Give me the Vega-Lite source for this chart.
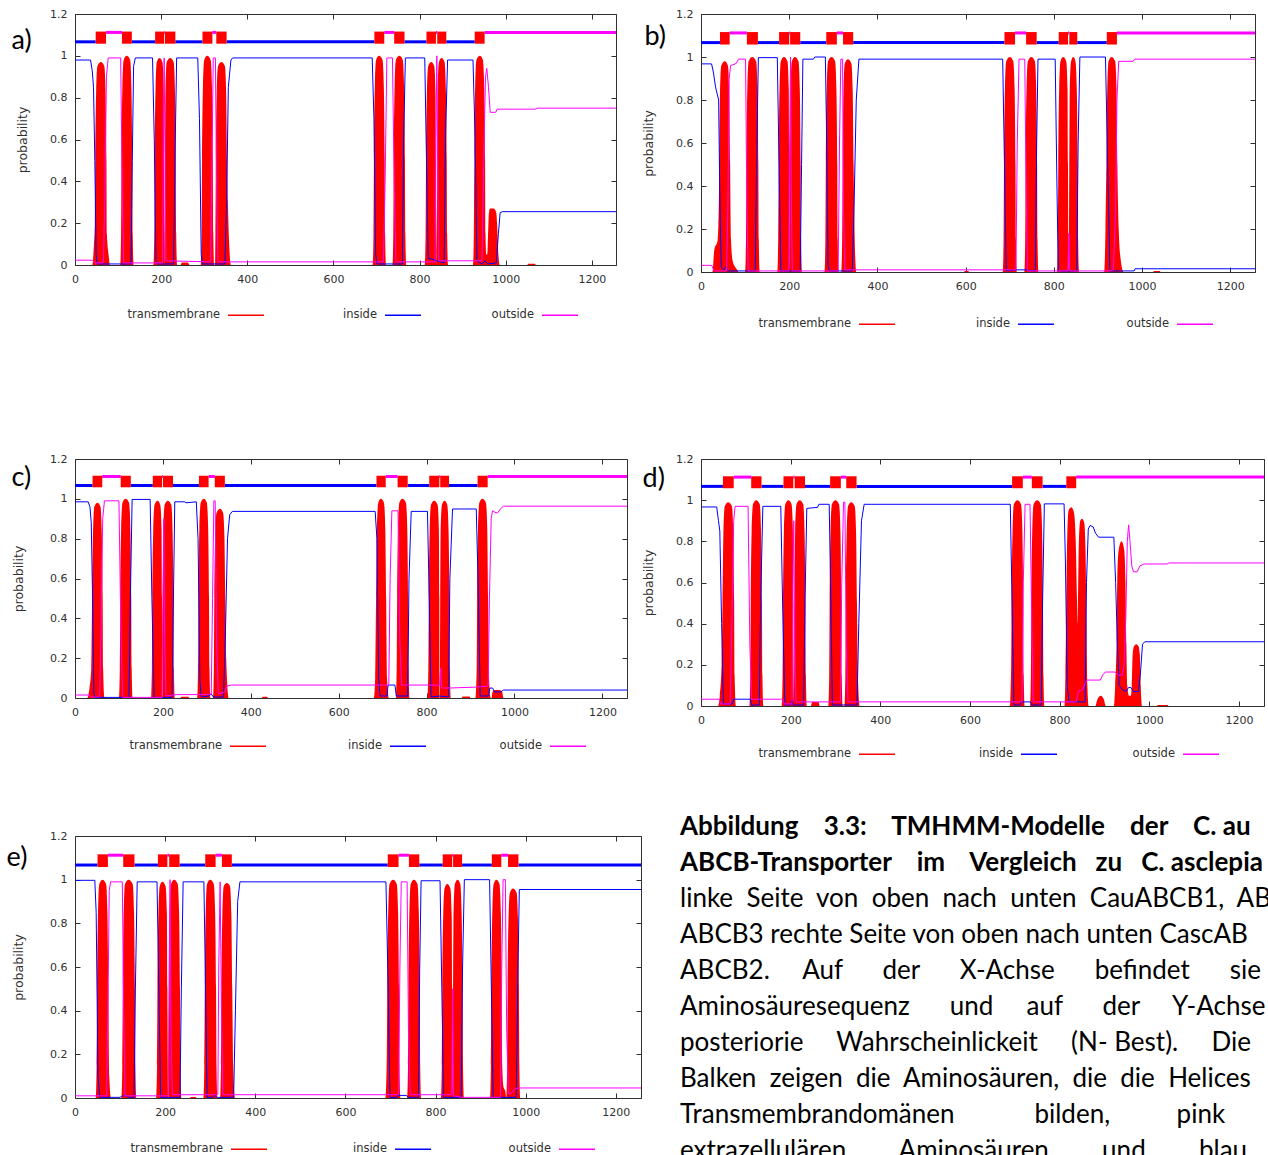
{
"$schema": "https://vega.github.io/schema/vega-lite/v6.json",
"background": "white",
"padding": {"left": 6, "top": 7, "right": 0, "bottom": 0},
"datasets": {
"a_top": [{"start":0,"end":48,"region":"inside"},{"start":48,"end":72,"region":"TMhelix"},{"start":72,"end":109,"region":"outside"},{"start":109,"end":132,"region":"TMhelix"},{"start":132,"end":186,"region":"inside"},{"start":186,"end":207,"region":"TMhelix"},{"start":207,"end":209,"region":"outside"},{"start":209,"end":233,"region":"TMhelix"},{"start":233,"end":296,"region":"inside"},{"start":296,"end":319,"region":"TMhelix"},{"start":319,"end":328,"region":"outside"},{"start":328,"end":352,"region":"TMhelix"},{"start":352,"end":695,"region":"inside"},{"start":695,"end":718,"region":"TMhelix"},{"start":718,"end":741,"region":"outside"},{"start":741,"end":765,"region":"TMhelix"},{"start":765,"end":816,"region":"inside"},{"start":816,"end":838,"region":"TMhelix"},{"start":838,"end":841,"region":"outside"},{"start":841,"end":862,"region":"TMhelix"},{"start":862,"end":928,"region":"inside"},{"start":928,"end":951,"region":"TMhelix"},{"start":951,"end":1256,"region":"outside"}],
"a_tm": [{"pos":0,"prob":0},{"pos":40,"prob":0},{"pos":44,"prob":0.1},{"pos":46,"prob":0.2},{"pos":47,"prob":0.5},{"pos":49,"prob":0.82},{"pos":52,"prob":0.95},{"pos":60,"prob":0.97},{"pos":68,"prob":0.95},{"pos":71,"prob":0.82},{"pos":73,"prob":0.5},{"pos":74,"prob":0.15},{"pos":78,"prob":0.05},{"pos":81,"prob":0},{"pos":105,"prob":0},{"pos":107,"prob":0.15},{"pos":108,"prob":0.5},{"pos":110,"prob":0.85},{"pos":113,"prob":0.98},{"pos":120,"prob":1},{"pos":128,"prob":0.98},{"pos":131,"prob":0.85},{"pos":133,"prob":0.5},{"pos":134,"prob":0.15},{"pos":136,"prob":0},{"pos":182,"prob":0},{"pos":184,"prob":0.15},{"pos":185,"prob":0.5},{"pos":187,"prob":0.84},{"pos":190,"prob":0.97},{"pos":196,"prob":0.99},{"pos":203,"prob":0.97},{"pos":206,"prob":0.84},{"pos":207,"prob":0.5},{"pos":208,"prob":0},{"pos":209,"prob":0.5},{"pos":210,"prob":0.84},{"pos":213,"prob":0.97},{"pos":221,"prob":0.99},{"pos":229,"prob":0.97},{"pos":232,"prob":0.84},{"pos":234,"prob":0.5},{"pos":235,"prob":0.15},{"pos":237,"prob":0},{"pos":245,"prob":0},{"pos":248,"prob":0.012},{"pos":262,"prob":0.012},{"pos":266,"prob":0},{"pos":292,"prob":0},{"pos":294,"prob":0.15},{"pos":295,"prob":0.5},{"pos":297,"prob":0.85},{"pos":300,"prob":0.98},{"pos":307,"prob":1},{"pos":315,"prob":0.98},{"pos":318,"prob":0.85},{"pos":320,"prob":0.5},{"pos":321,"prob":0.15},{"pos":323,"prob":0},{"pos":325,"prob":0},{"pos":326,"prob":0.15},{"pos":327,"prob":0.5},{"pos":329,"prob":0.82},{"pos":332,"prob":0.95},{"pos":340,"prob":0.97},{"pos":348,"prob":0.95},{"pos":351,"prob":0.82},{"pos":353,"prob":0.5},{"pos":355,"prob":0.3},{"pos":358,"prob":0.1},{"pos":362,"prob":0},{"pos":691,"prob":0},{"pos":693,"prob":0.15},{"pos":694,"prob":0.5},{"pos":696,"prob":0.85},{"pos":699,"prob":0.98},{"pos":706,"prob":1},{"pos":714,"prob":0.98},{"pos":717,"prob":0.85},{"pos":719,"prob":0.5},{"pos":720,"prob":0.15},{"pos":722,"prob":0},{"pos":737,"prob":0},{"pos":739,"prob":0.15},{"pos":740,"prob":0.5},{"pos":742,"prob":0.85},{"pos":745,"prob":0.98},{"pos":753,"prob":1},{"pos":761,"prob":0.98},{"pos":764,"prob":0.85},{"pos":766,"prob":0.5},{"pos":767,"prob":0.15},{"pos":769,"prob":0},{"pos":812,"prob":0},{"pos":814,"prob":0.15},{"pos":815,"prob":0.5},{"pos":817,"prob":0.82},{"pos":820,"prob":0.95},{"pos":827,"prob":0.97},{"pos":834,"prob":0.95},{"pos":837,"prob":0.82},{"pos":838,"prob":0.5},{"pos":839.5,"prob":0},{"pos":841,"prob":0.5},{"pos":842,"prob":0.84},{"pos":845,"prob":0.97},{"pos":851,"prob":0.99},{"pos":858,"prob":0.97},{"pos":861,"prob":0.84},{"pos":863,"prob":0.5},{"pos":864,"prob":0.15},{"pos":866,"prob":0},{"pos":924,"prob":0},{"pos":926,"prob":0.15},{"pos":927,"prob":0.5},{"pos":929,"prob":0.85},{"pos":932,"prob":0.98},{"pos":940,"prob":1},{"pos":947,"prob":0.98},{"pos":950,"prob":0.85},{"pos":952,"prob":0.5},{"pos":953,"prob":0.15},{"pos":955,"prob":0.05},{"pos":957,"prob":0.05},{"pos":959,"prob":0.15},{"pos":961,"prob":0.25},{"pos":964,"prob":0.27},{"pos":972,"prob":0.27},{"pos":978,"prob":0.25},{"pos":981,"prob":0.15},{"pos":983,"prob":0.05},{"pos":986,"prob":0},{"pos":1050,"prob":0},{"pos":1052,"prob":0.006},{"pos":1068,"prob":0.006},{"pos":1070,"prob":0},{"pos":1256,"prob":0}],
"a_in": [{"pos":0,"prob":0.98},{"pos":36,"prob":0.98},{"pos":40,"prob":0.93},{"pos":43,"prob":0.85},{"pos":46,"prob":0.5},{"pos":49,"prob":0.05},{"pos":52,"prob":0.005},{"pos":130,"prob":0.005},{"pos":133,"prob":0.5},{"pos":136,"prob":0.95},{"pos":140,"prob":0.99},{"pos":180,"prob":0.99},{"pos":184,"prob":0.6},{"pos":188,"prob":0.02},{"pos":191,"prob":0.005},{"pos":229,"prob":0.005},{"pos":232,"prob":0.5},{"pos":236,"prob":0.99},{"pos":285,"prob":0.99},{"pos":289,"prob":0.7},{"pos":293,"prob":0.05},{"pos":296,"prob":0.005},{"pos":348,"prob":0.005},{"pos":352,"prob":0.3},{"pos":356,"prob":0.85},{"pos":362,"prob":0.98},{"pos":366,"prob":0.99},{"pos":690,"prob":0.99},{"pos":694,"prob":0.7},{"pos":698,"prob":0.05},{"pos":701,"prob":0.005},{"pos":760,"prob":0.005},{"pos":763,"prob":0.6},{"pos":767,"prob":0.99},{"pos":812,"prob":0.99},{"pos":816,"prob":0.5},{"pos":820,"prob":0.03},{"pos":826,"prob":0.03},{"pos":840,"prob":0.02},{"pos":857,"prob":0.01},{"pos":860,"prob":0.6},{"pos":865,"prob":0.98},{"pos":924,"prob":0.98},{"pos":929,"prob":0.6},{"pos":933,"prob":0.02},{"pos":945,"prob":0.005},{"pos":952,"prob":0.02},{"pos":958,"prob":0.005},{"pos":978,"prob":0.01},{"pos":983,"prob":0.15},{"pos":987,"prob":0.25},{"pos":992,"prob":0.255},{"pos":1256,"prob":0.255}],
"a_out": [{"pos":0,"prob":0.023},{"pos":40,"prob":0.023},{"pos":47,"prob":0.01},{"pos":66,"prob":0.01},{"pos":69,"prob":0.3},{"pos":73,"prob":0.9},{"pos":77,"prob":0.99},{"pos":106,"prob":0.99},{"pos":110,"prob":0.3},{"pos":113,"prob":0.01},{"pos":203,"prob":0.01},{"pos":205,"prob":0.6},{"pos":207,"prob":0.99},{"pos":209,"prob":0.5},{"pos":211,"prob":0.02},{"pos":315,"prob":0.015},{"pos":318,"prob":0.5},{"pos":321,"prob":0.99},{"pos":326,"prob":0.99},{"pos":329,"prob":0.3},{"pos":332,"prob":0.015},{"pos":716,"prob":0.015},{"pos":720,"prob":0.4},{"pos":724,"prob":0.99},{"pos":737,"prob":0.99},{"pos":741,"prob":0.4},{"pos":745,"prob":0.015},{"pos":836,"prob":0.015},{"pos":838,"prob":0.6},{"pos":840,"prob":1.0},{"pos":842,"prob":0.5},{"pos":844,"prob":0.02},{"pos":945,"prob":0.02},{"pos":949,"prob":0.5},{"pos":953,"prob":0.9},{"pos":956,"prob":0.94},{"pos":960,"prob":0.85},{"pos":964,"prob":0.73},{"pos":977,"prob":0.73},{"pos":980,"prob":0.745},{"pos":1070,"prob":0.745},{"pos":1072,"prob":0.75},{"pos":1256,"prob":0.75}],
"b_top": [{"start":0,"end":43,"region":"inside"},{"start":43,"end":65,"region":"TMhelix"},{"start":65,"end":104,"region":"outside"},{"start":104,"end":129,"region":"TMhelix"},{"start":129,"end":177,"region":"inside"},{"start":177,"end":200,"region":"TMhelix"},{"start":200,"end":202,"region":"outside"},{"start":202,"end":225,"region":"TMhelix"},{"start":225,"end":284,"region":"inside"},{"start":284,"end":308,"region":"TMhelix"},{"start":308,"end":322,"region":"outside"},{"start":322,"end":345,"region":"TMhelix"},{"start":345,"end":688,"region":"inside"},{"start":688,"end":712,"region":"TMhelix"},{"start":712,"end":737,"region":"outside"},{"start":737,"end":761,"region":"TMhelix"},{"start":761,"end":811,"region":"inside"},{"start":811,"end":832,"region":"TMhelix"},{"start":832,"end":835,"region":"outside"},{"start":835,"end":853,"region":"TMhelix"},{"start":853,"end":920,"region":"inside"},{"start":920,"end":943,"region":"TMhelix"},{"start":943,"end":1256,"region":"outside"}],
"b_tm": [{"pos":0,"prob":0},{"pos":26,"prob":0},{"pos":30,"prob":0.1},{"pos":38,"prob":0.15},{"pos":41,"prob":0.4},{"pos":43,"prob":0.83},{"pos":46,"prob":0.96},{"pos":54,"prob":0.98},{"pos":61,"prob":0.96},{"pos":64,"prob":0.83},{"pos":66,"prob":0.5},{"pos":68,"prob":0.15},{"pos":72,"prob":0.05},{"pos":82,"prob":0.01},{"pos":85,"prob":0},{"pos":100,"prob":0},{"pos":102,"prob":0.15},{"pos":103,"prob":0.5},{"pos":105,"prob":0.85},{"pos":108,"prob":0.98},{"pos":116,"prob":1},{"pos":125,"prob":0.98},{"pos":128,"prob":0.85},{"pos":130,"prob":0.5},{"pos":131,"prob":0.15},{"pos":133,"prob":0},{"pos":173,"prob":0},{"pos":175,"prob":0.15},{"pos":176,"prob":0.5},{"pos":178,"prob":0.85},{"pos":181,"prob":0.98},{"pos":188,"prob":1},{"pos":196,"prob":0.98},{"pos":199,"prob":0.85},{"pos":200,"prob":0.5},{"pos":201,"prob":0},{"pos":202,"prob":0.5},{"pos":203,"prob":0.85},{"pos":206,"prob":0.98},{"pos":213,"prob":1},{"pos":221,"prob":0.98},{"pos":224,"prob":0.85},{"pos":226,"prob":0.5},{"pos":227,"prob":0.15},{"pos":229,"prob":0},{"pos":280,"prob":0},{"pos":282,"prob":0.15},{"pos":283,"prob":0.5},{"pos":285,"prob":0.85},{"pos":288,"prob":0.98},{"pos":296,"prob":1},{"pos":304,"prob":0.98},{"pos":307,"prob":0.85},{"pos":309,"prob":0.5},{"pos":310,"prob":0.15},{"pos":312,"prob":0},{"pos":318,"prob":0},{"pos":320,"prob":0.15},{"pos":321,"prob":0.5},{"pos":323,"prob":0.84},{"pos":326,"prob":0.97},{"pos":333,"prob":0.99},{"pos":341,"prob":0.97},{"pos":344,"prob":0.84},{"pos":346,"prob":0.5},{"pos":348,"prob":0.2},{"pos":352,"prob":0},{"pos":596,"prob":0},{"pos":598,"prob":0.005},{"pos":606,"prob":0.005},{"pos":608,"prob":0},{"pos":684,"prob":0},{"pos":686,"prob":0.15},{"pos":687,"prob":0.5},{"pos":689,"prob":0.85},{"pos":692,"prob":0.98},{"pos":700,"prob":1},{"pos":708,"prob":0.98},{"pos":711,"prob":0.85},{"pos":713,"prob":0.5},{"pos":714,"prob":0.15},{"pos":716,"prob":0},{"pos":733,"prob":0},{"pos":735,"prob":0.15},{"pos":736,"prob":0.5},{"pos":738,"prob":0.85},{"pos":741,"prob":0.98},{"pos":749,"prob":1},{"pos":757,"prob":0.98},{"pos":760,"prob":0.85},{"pos":762,"prob":0.5},{"pos":763,"prob":0.15},{"pos":765,"prob":0},{"pos":807,"prob":0},{"pos":809,"prob":0.15},{"pos":810,"prob":0.5},{"pos":812,"prob":0.85},{"pos":815,"prob":0.98},{"pos":821,"prob":1},{"pos":828,"prob":0.98},{"pos":831,"prob":0.85},{"pos":832,"prob":0.5},{"pos":833.5,"prob":0},{"pos":835,"prob":0.5},{"pos":836,"prob":0.85},{"pos":839,"prob":0.98},{"pos":844,"prob":1},{"pos":849,"prob":0.98},{"pos":852,"prob":0.85},{"pos":854,"prob":0.5},{"pos":855,"prob":0.15},{"pos":857,"prob":0},{"pos":914,"prob":0},{"pos":917,"prob":0.2},{"pos":919,"prob":0.5},{"pos":921,"prob":0.85},{"pos":924,"prob":0.98},{"pos":931,"prob":1},{"pos":939,"prob":0.98},{"pos":942,"prob":0.85},{"pos":944,"prob":0.5},{"pos":947,"prob":0.2},{"pos":952,"prob":0.05},{"pos":958,"prob":0},{"pos":1025,"prob":0},{"pos":1027,"prob":0.005},{"pos":1040,"prob":0.005},{"pos":1042,"prob":0},{"pos":1256,"prob":0}],
"b_in": [{"pos":0,"prob":0.968},{"pos":24,"prob":0.968},{"pos":28,"prob":0.93},{"pos":33,"prob":0.86},{"pos":40,"prob":0.8},{"pos":43,"prob":0.3},{"pos":46,"prob":0.02},{"pos":52,"prob":0.01},{"pos":56,"prob":0.025},{"pos":60,"prob":0.005},{"pos":123,"prob":0.005},{"pos":126,"prob":0.5},{"pos":130,"prob":0.997},{"pos":173,"prob":0.997},{"pos":177,"prob":0.5},{"pos":181,"prob":0.005},{"pos":225,"prob":0.005},{"pos":228,"prob":0.5},{"pos":231,"prob":0.99},{"pos":255,"prob":0.99},{"pos":258,"prob":1.0},{"pos":282,"prob":1.0},{"pos":285,"prob":0.6},{"pos":288,"prob":0.03},{"pos":291,"prob":0.005},{"pos":343,"prob":0.005},{"pos":347,"prob":0.3},{"pos":352,"prob":0.8},{"pos":358,"prob":0.99},{"pos":684,"prob":0.99},{"pos":688,"prob":0.5},{"pos":692,"prob":0.005},{"pos":712,"prob":0.01},{"pos":735,"prob":0.01},{"pos":758,"prob":0.005},{"pos":761,"prob":0.6},{"pos":764,"prob":0.99},{"pos":803,"prob":0.99},{"pos":807,"prob":0.4},{"pos":810,"prob":0.005},{"pos":852,"prob":0.005},{"pos":855,"prob":0.6},{"pos":859,"prob":1.0},{"pos":917,"prob":1.0},{"pos":922,"prob":0.5},{"pos":927,"prob":0.005},{"pos":982,"prob":0.005},{"pos":984,"prob":0.015},{"pos":1256,"prob":0.015}],
"b_out": [{"pos":0,"prob":0.031},{"pos":24,"prob":0.031},{"pos":30,"prob":0.005},{"pos":58,"prob":0.005},{"pos":61,"prob":0.3},{"pos":64,"prob":0.9},{"pos":67,"prob":0.96},{"pos":80,"prob":0.97},{"pos":85,"prob":0.99},{"pos":101,"prob":0.99},{"pos":104,"prob":0.3},{"pos":107,"prob":0.005},{"pos":199,"prob":0.005},{"pos":201,"prob":0.6},{"pos":203,"prob":1.0},{"pos":205,"prob":0.3},{"pos":207,"prob":0.005},{"pos":311,"prob":0.005},{"pos":314,"prob":0.6},{"pos":317,"prob":0.99},{"pos":321,"prob":0.99},{"pos":323,"prob":0.3},{"pos":326,"prob":0.01},{"pos":714,"prob":0.01},{"pos":717,"prob":0.6},{"pos":721,"prob":0.99},{"pos":734,"prob":0.99},{"pos":737,"prob":0.4},{"pos":740,"prob":0.005},{"pos":832,"prob":0.005},{"pos":834,"prob":0.18},{"pos":836,"prob":0.005},{"pos":925,"prob":0.005},{"pos":935,"prob":0.01},{"pos":940,"prob":0.3},{"pos":943,"prob":0.8},{"pos":947,"prob":0.98},{"pos":980,"prob":0.98},{"pos":983,"prob":0.99},{"pos":1256,"prob":0.99}],
"c_top": [{"start":0,"end":40,"region":"inside"},{"start":40,"end":62,"region":"TMhelix"},{"start":62,"end":104,"region":"outside"},{"start":104,"end":127,"region":"TMhelix"},{"start":127,"end":177,"region":"inside"},{"start":177,"end":198,"region":"TMhelix"},{"start":198,"end":200,"region":"outside"},{"start":200,"end":223,"region":"TMhelix"},{"start":223,"end":282,"region":"inside"},{"start":282,"end":304,"region":"TMhelix"},{"start":304,"end":318,"region":"outside"},{"start":318,"end":341,"region":"TMhelix"},{"start":341,"end":686,"region":"inside"},{"start":686,"end":707,"region":"TMhelix"},{"start":707,"end":734,"region":"outside"},{"start":734,"end":757,"region":"TMhelix"},{"start":757,"end":806,"region":"inside"},{"start":806,"end":829,"region":"TMhelix"},{"start":829,"end":831,"region":"outside"},{"start":831,"end":851,"region":"TMhelix"},{"start":851,"end":916,"region":"inside"},{"start":916,"end":939,"region":"TMhelix"},{"start":939,"end":1256,"region":"outside"}],
"c_tm": [{"pos":0,"prob":0},{"pos":28,"prob":0},{"pos":33,"prob":0.05},{"pos":37,"prob":0.15},{"pos":39,"prob":0.5},{"pos":41,"prob":0.83},{"pos":44,"prob":0.96},{"pos":51,"prob":0.98},{"pos":58,"prob":0.96},{"pos":61,"prob":0.83},{"pos":63,"prob":0.5},{"pos":64,"prob":0.15},{"pos":67,"prob":0},{"pos":100,"prob":0},{"pos":102,"prob":0.15},{"pos":103,"prob":0.5},{"pos":105,"prob":0.85},{"pos":108,"prob":0.98},{"pos":115,"prob":1},{"pos":123,"prob":0.98},{"pos":126,"prob":0.85},{"pos":128,"prob":0.5},{"pos":129,"prob":0.15},{"pos":131,"prob":0},{"pos":173,"prob":0},{"pos":175,"prob":0.15},{"pos":176,"prob":0.5},{"pos":178,"prob":0.84},{"pos":181,"prob":0.97},{"pos":188,"prob":0.99},{"pos":194,"prob":0.97},{"pos":197,"prob":0.84},{"pos":198,"prob":0.5},{"pos":199,"prob":0},{"pos":200,"prob":0.5},{"pos":201,"prob":0.84},{"pos":204,"prob":0.97},{"pos":211,"prob":0.99},{"pos":219,"prob":0.97},{"pos":222,"prob":0.84},{"pos":224,"prob":0.5},{"pos":225,"prob":0.15},{"pos":227,"prob":0},{"pos":240,"prob":0},{"pos":242,"prob":0.006},{"pos":258,"prob":0.006},{"pos":260,"prob":0},{"pos":278,"prob":0},{"pos":280,"prob":0.15},{"pos":281,"prob":0.5},{"pos":283,"prob":0.85},{"pos":286,"prob":0.98},{"pos":293,"prob":1},{"pos":300,"prob":0.98},{"pos":303,"prob":0.85},{"pos":305,"prob":0.5},{"pos":306,"prob":0.15},{"pos":308,"prob":0},{"pos":314,"prob":0},{"pos":316,"prob":0.15},{"pos":317,"prob":0.5},{"pos":319,"prob":0.81},{"pos":322,"prob":0.93},{"pos":330,"prob":0.95},{"pos":337,"prob":0.93},{"pos":340,"prob":0.81},{"pos":342,"prob":0.5},{"pos":344,"prob":0.2},{"pos":350,"prob":0},{"pos":425,"prob":0},{"pos":427,"prob":0.006},{"pos":437,"prob":0.006},{"pos":439,"prob":0},{"pos":680,"prob":0},{"pos":683,"prob":0.1},{"pos":685,"prob":0.5},{"pos":687,"prob":0.85},{"pos":690,"prob":0.98},{"pos":696,"prob":1},{"pos":703,"prob":0.98},{"pos":706,"prob":0.85},{"pos":708,"prob":0.5},{"pos":710,"prob":0.1},{"pos":714,"prob":0},{"pos":730,"prob":0},{"pos":732,"prob":0.15},{"pos":733,"prob":0.5},{"pos":735,"prob":0.85},{"pos":738,"prob":0.98},{"pos":745,"prob":1},{"pos":753,"prob":0.98},{"pos":756,"prob":0.85},{"pos":758,"prob":0.5},{"pos":759,"prob":0.15},{"pos":761,"prob":0},{"pos":802,"prob":0},{"pos":804,"prob":0.15},{"pos":805,"prob":0.5},{"pos":807,"prob":0.84},{"pos":810,"prob":0.97},{"pos":817,"prob":0.99},{"pos":825,"prob":0.97},{"pos":828,"prob":0.84},{"pos":829,"prob":0.5},{"pos":830,"prob":0},{"pos":831,"prob":0.5},{"pos":832,"prob":0.84},{"pos":835,"prob":0.97},{"pos":841,"prob":0.99},{"pos":847,"prob":0.97},{"pos":850,"prob":0.84},{"pos":852,"prob":0.5},{"pos":853,"prob":0.15},{"pos":855,"prob":0},{"pos":880,"prob":0},{"pos":882,"prob":0.008},{"pos":898,"prob":0.008},{"pos":900,"prob":0},{"pos":911,"prob":0},{"pos":914,"prob":0.15},{"pos":915,"prob":0.5},{"pos":917,"prob":0.85},{"pos":920,"prob":0.98},{"pos":927,"prob":1},{"pos":935,"prob":0.98},{"pos":938,"prob":0.85},{"pos":940,"prob":0.5},{"pos":942,"prob":0.1},{"pos":946,"prob":0},{"pos":948,"prob":0},{"pos":950,"prob":0.03},{"pos":955,"prob":0.04},{"pos":965,"prob":0.04},{"pos":972,"prob":0.03},{"pos":975,"prob":0},{"pos":1256,"prob":0}],
"c_in": [{"pos":0,"prob":0.985},{"pos":30,"prob":0.985},{"pos":34,"prob":0.96},{"pos":37,"prob":0.88},{"pos":40,"prob":0.5},{"pos":43,"prob":0.02},{"pos":46,"prob":0.003},{"pos":123,"prob":0.003},{"pos":126,"prob":0.5},{"pos":130,"prob":0.997},{"pos":171,"prob":0.997},{"pos":175,"prob":0.5},{"pos":180,"prob":0.003},{"pos":221,"prob":0.003},{"pos":224,"prob":0.5},{"pos":227,"prob":0.985},{"pos":250,"prob":0.985},{"pos":252,"prob":0.98},{"pos":276,"prob":0.985},{"pos":280,"prob":0.8},{"pos":284,"prob":0.1},{"pos":287,"prob":0.005},{"pos":305,"prob":0.01},{"pos":310,"prob":0.02},{"pos":315,"prob":0.005},{"pos":338,"prob":0.005},{"pos":342,"prob":0.3},{"pos":347,"prob":0.8},{"pos":352,"prob":0.92},{"pos":358,"prob":0.937},{"pos":683,"prob":0.937},{"pos":687,"prob":0.8},{"pos":691,"prob":0.1},{"pos":694,"prob":0.01},{"pos":710,"prob":0.01},{"pos":712,"prob":0.06},{"pos":715,"prob":0.065},{"pos":728,"prob":0.065},{"pos":731,"prob":0.01},{"pos":757,"prob":0.01},{"pos":760,"prob":0.6},{"pos":765,"prob":0.937},{"pos":802,"prob":0.937},{"pos":806,"prob":0.5},{"pos":810,"prob":0.005},{"pos":830,"prob":0.01},{"pos":850,"prob":0.005},{"pos":853,"prob":0.6},{"pos":859,"prob":0.949},{"pos":913,"prob":0.949},{"pos":917,"prob":0.6},{"pos":922,"prob":0.01},{"pos":940,"prob":0.01},{"pos":944,"prob":0.05},{"pos":950,"prob":0.05},{"pos":955,"prob":0.03},{"pos":968,"prob":0.03},{"pos":975,"prob":0.04},{"pos":1256,"prob":0.04}],
"c_out": [{"pos":0,"prob":0.015},{"pos":33,"prob":0.015},{"pos":36,"prob":0.005},{"pos":56,"prob":0.005},{"pos":59,"prob":0.3},{"pos":63,"prob":0.9},{"pos":67,"prob":0.99},{"pos":100,"prob":0.99},{"pos":104,"prob":0.4},{"pos":108,"prob":0.003},{"pos":198,"prob":0.003},{"pos":200,"prob":0.5},{"pos":202,"prob":0.9},{"pos":204,"prob":0.3},{"pos":207,"prob":0.01},{"pos":231,"prob":0.017},{"pos":286,"prob":0.017},{"pos":310,"prob":0.02},{"pos":313,"prob":0.5},{"pos":316,"prob":0.99},{"pos":319,"prob":0.99},{"pos":322,"prob":0.3},{"pos":326,"prob":0.02},{"pos":341,"prob":0.03},{"pos":346,"prob":0.06},{"pos":356,"prob":0.065},{"pos":714,"prob":0.065},{"pos":717,"prob":0.6},{"pos":721,"prob":0.94},{"pos":735,"prob":0.94},{"pos":739,"prob":0.3},{"pos":743,"prob":0.065},{"pos":830,"prob":0.065},{"pos":832,"prob":0.15},{"pos":834,"prob":0.05},{"pos":851,"prob":0.05},{"pos":916,"prob":0.055},{"pos":940,"prob":0.06},{"pos":943,"prob":0.5},{"pos":947,"prob":0.9},{"pos":950,"prob":0.94},{"pos":958,"prob":0.93},{"pos":962,"prob":0.93},{"pos":968,"prob":0.95},{"pos":975,"prob":0.963},{"pos":1256,"prob":0.963}],
"d_top": [{"start":0,"end":49,"region":"inside"},{"start":49,"end":73,"region":"TMhelix"},{"start":73,"end":112,"region":"outside"},{"start":112,"end":135,"region":"TMhelix"},{"start":135,"end":184,"region":"inside"},{"start":184,"end":206,"region":"TMhelix"},{"start":206,"end":209,"region":"outside"},{"start":209,"end":232,"region":"TMhelix"},{"start":232,"end":288,"region":"inside"},{"start":288,"end":312,"region":"TMhelix"},{"start":312,"end":324,"region":"outside"},{"start":324,"end":347,"region":"TMhelix"},{"start":347,"end":694,"region":"inside"},{"start":694,"end":718,"region":"TMhelix"},{"start":718,"end":738,"region":"outside"},{"start":738,"end":762,"region":"TMhelix"},{"start":762,"end":815,"region":"inside"},{"start":815,"end":837,"region":"TMhelix"},{"start":837,"end":1256,"region":"outside"}],
"d_tm": [{"pos":0,"prob":0},{"pos":38,"prob":0},{"pos":42,"prob":0.05},{"pos":46,"prob":0.2},{"pos":48,"prob":0.5},{"pos":50,"prob":0.84},{"pos":53,"prob":0.97},{"pos":61,"prob":0.99},{"pos":69,"prob":0.97},{"pos":72,"prob":0.84},{"pos":74,"prob":0.5},{"pos":75,"prob":0.15},{"pos":78,"prob":0},{"pos":108,"prob":0},{"pos":110,"prob":0.15},{"pos":111,"prob":0.5},{"pos":113,"prob":0.85},{"pos":116,"prob":0.98},{"pos":123,"prob":1},{"pos":131,"prob":0.98},{"pos":134,"prob":0.85},{"pos":136,"prob":0.5},{"pos":137,"prob":0.15},{"pos":139,"prob":0},{"pos":180,"prob":0},{"pos":182,"prob":0.15},{"pos":183,"prob":0.5},{"pos":185,"prob":0.85},{"pos":188,"prob":0.98},{"pos":195,"prob":1},{"pos":202,"prob":0.98},{"pos":205,"prob":0.85},{"pos":206,"prob":0.5},{"pos":207.5,"prob":0},{"pos":209,"prob":0.5},{"pos":210,"prob":0.85},{"pos":213,"prob":0.98},{"pos":220,"prob":1},{"pos":228,"prob":0.98},{"pos":231,"prob":0.85},{"pos":233,"prob":0.5},{"pos":234,"prob":0.15},{"pos":236,"prob":0},{"pos":245,"prob":0},{"pos":248,"prob":0.02},{"pos":262,"prob":0.02},{"pos":265,"prob":0},{"pos":284,"prob":0},{"pos":286,"prob":0.15},{"pos":287,"prob":0.5},{"pos":289,"prob":0.85},{"pos":292,"prob":0.98},{"pos":300,"prob":1},{"pos":308,"prob":0.98},{"pos":311,"prob":0.85},{"pos":313,"prob":0.5},{"pos":314,"prob":0.15},{"pos":316,"prob":0},{"pos":320,"prob":0},{"pos":322,"prob":0.15},{"pos":323,"prob":0.5},{"pos":325,"prob":0.84},{"pos":328,"prob":0.97},{"pos":335,"prob":0.99},{"pos":343,"prob":0.97},{"pos":346,"prob":0.84},{"pos":348,"prob":0.5},{"pos":350,"prob":0.15},{"pos":354,"prob":0},{"pos":689,"prob":0},{"pos":692,"prob":0.2},{"pos":693,"prob":0.5},{"pos":695,"prob":0.85},{"pos":698,"prob":0.98},{"pos":706,"prob":1},{"pos":714,"prob":0.98},{"pos":717,"prob":0.85},{"pos":719,"prob":0.5},{"pos":720,"prob":0.15},{"pos":722,"prob":0},{"pos":734,"prob":0},{"pos":736,"prob":0.15},{"pos":737,"prob":0.5},{"pos":739,"prob":0.85},{"pos":742,"prob":0.98},{"pos":750,"prob":1},{"pos":758,"prob":0.98},{"pos":761,"prob":0.85},{"pos":763,"prob":0.5},{"pos":764,"prob":0.15},{"pos":766,"prob":0},{"pos":811,"prob":0},{"pos":813,"prob":0.15},{"pos":815,"prob":0.5},{"pos":817,"prob":0.82},{"pos":820,"prob":0.95},{"pos":826,"prob":0.966},{"pos":832,"prob":0.94},{"pos":836,"prob":0.8},{"pos":839,"prob":0.5},{"pos":840,"prob":0.4},{"pos":841,"prob":0.5},{"pos":843,"prob":0.8},{"pos":846,"prob":0.9},{"pos":850,"prob":0.91},{"pos":855,"prob":0.89},{"pos":858,"prob":0.75},{"pos":860,"prob":0.4},{"pos":862,"prob":0.1},{"pos":865,"prob":0},{"pos":880,"prob":0},{"pos":884,"prob":0.03},{"pos":892,"prob":0.05},{"pos":899,"prob":0.03},{"pos":903,"prob":0},{"pos":921,"prob":0},{"pos":924,"prob":0.1},{"pos":927,"prob":0.3},{"pos":929,"prob":0.65},{"pos":932,"prob":0.76},{"pos":938,"prob":0.8},{"pos":944,"prob":0.76},{"pos":947,"prob":0.6},{"pos":949,"prob":0.3},{"pos":951,"prob":0.1},{"pos":955,"prob":0.05},{"pos":959,"prob":0.05},{"pos":961,"prob":0.1},{"pos":963,"prob":0.25},{"pos":966,"prob":0.29},{"pos":971,"prob":0.3},{"pos":976,"prob":0.29},{"pos":979,"prob":0.25},{"pos":981,"prob":0.1},{"pos":984,"prob":0},{"pos":1017,"prob":0},{"pos":1019,"prob":0.005},{"pos":1041,"prob":0.005},{"pos":1043,"prob":0},{"pos":1256,"prob":0}],
"d_in": [{"pos":0,"prob":0.967},{"pos":35,"prob":0.967},{"pos":39,"prob":0.9},{"pos":42,"prob":0.85},{"pos":46,"prob":0.4},{"pos":50,"prob":0.01},{"pos":70,"prob":0.01},{"pos":73,"prob":0.033},{"pos":110,"prob":0.033},{"pos":113,"prob":0.005},{"pos":130,"prob":0.005},{"pos":133,"prob":0.5},{"pos":138,"prob":0.97},{"pos":178,"prob":0.97},{"pos":182,"prob":0.5},{"pos":187,"prob":0.005},{"pos":200,"prob":0.005},{"pos":203,"prob":0.03},{"pos":206,"prob":0.005},{"pos":229,"prob":0.005},{"pos":232,"prob":0.5},{"pos":236,"prob":0.96},{"pos":260,"prob":0.965},{"pos":263,"prob":0.98},{"pos":286,"prob":0.98},{"pos":289,"prob":0.6},{"pos":293,"prob":0.005},{"pos":348,"prob":0.005},{"pos":352,"prob":0.4},{"pos":358,"prob":0.9},{"pos":364,"prob":0.98},{"pos":690,"prob":0.98},{"pos":694,"prob":0.5},{"pos":698,"prob":0.005},{"pos":712,"prob":0.005},{"pos":714,"prob":0.02},{"pos":735,"prob":0.02},{"pos":738,"prob":0.005},{"pos":759,"prob":0.005},{"pos":762,"prob":0.5},{"pos":766,"prob":0.982},{"pos":810,"prob":0.982},{"pos":813,"prob":0.7},{"pos":817,"prob":0.1},{"pos":821,"prob":0.02},{"pos":857,"prob":0.02},{"pos":860,"prob":0.6},{"pos":864,"prob":0.86},{"pos":868,"prob":0.877},{"pos":875,"prob":0.87},{"pos":880,"prob":0.84},{"pos":887,"prob":0.82},{"pos":921,"prob":0.82},{"pos":925,"prob":0.6},{"pos":929,"prob":0.3},{"pos":933,"prob":0.1},{"pos":940,"prob":0.08},{"pos":948,"prob":0.07},{"pos":954,"prob":0.09},{"pos":959,"prob":0.09},{"pos":965,"prob":0.07},{"pos":976,"prob":0.07},{"pos":980,"prob":0.15},{"pos":985,"prob":0.3},{"pos":990,"prob":0.312},{"pos":1256,"prob":0.312}],
"d_out": [{"pos":0,"prob":0.033},{"pos":40,"prob":0.033},{"pos":44,"prob":0.01},{"pos":65,"prob":0.01},{"pos":69,"prob":0.4},{"pos":73,"prob":0.9},{"pos":76,"prob":0.97},{"pos":105,"prob":0.97},{"pos":109,"prob":0.3},{"pos":113,"prob":0.033},{"pos":182,"prob":0.033},{"pos":186,"prob":0.01},{"pos":203,"prob":0.01},{"pos":205,"prob":0.6},{"pos":207,"prob":0.9},{"pos":209,"prob":0.3},{"pos":212,"prob":0.02},{"pos":311,"prob":0.02},{"pos":314,"prob":0.6},{"pos":318,"prob":0.99},{"pos":321,"prob":0.99},{"pos":324,"prob":0.3},{"pos":328,"prob":0.02},{"pos":716,"prob":0.02},{"pos":719,"prob":0.6},{"pos":723,"prob":0.98},{"pos":734,"prob":0.98},{"pos":738,"prob":0.4},{"pos":741,"prob":0.02},{"pos":837,"prob":0.02},{"pos":842,"prob":0.072},{"pos":852,"prob":0.08},{"pos":857,"prob":0.113},{"pos":861,"prob":0.126},{"pos":891,"prob":0.126},{"pos":896,"prob":0.15},{"pos":902,"prob":0.165},{"pos":924,"prob":0.165},{"pos":930,"prob":0.15},{"pos":940,"prob":0.15},{"pos":944,"prob":0.2},{"pos":948,"prob":0.45},{"pos":951,"prob":0.8},{"pos":954,"prob":0.88},{"pos":957,"prob":0.8},{"pos":961,"prob":0.68},{"pos":965,"prob":0.652},{"pos":973,"prob":0.652},{"pos":979,"prob":0.68},{"pos":988,"prob":0.69},{"pos":1040,"prob":0.69},{"pos":1044,"prob":0.695},{"pos":1256,"prob":0.695}],
"e_top": [{"start":0,"end":50,"region":"inside"},{"start":50,"end":73,"region":"TMhelix"},{"start":73,"end":107,"region":"outside"},{"start":107,"end":132,"region":"TMhelix"},{"start":132,"end":184,"region":"inside"},{"start":184,"end":205,"region":"TMhelix"},{"start":205,"end":209,"region":"outside"},{"start":209,"end":232,"region":"TMhelix"},{"start":232,"end":289,"region":"inside"},{"start":289,"end":312,"region":"TMhelix"},{"start":312,"end":326,"region":"outside"},{"start":326,"end":348,"region":"TMhelix"},{"start":348,"end":694,"region":"inside"},{"start":694,"end":718,"region":"TMhelix"},{"start":718,"end":741,"region":"outside"},{"start":741,"end":764,"region":"TMhelix"},{"start":764,"end":816,"region":"inside"},{"start":816,"end":837,"region":"TMhelix"},{"start":837,"end":839,"region":"outside"},{"start":839,"end":859,"region":"TMhelix"},{"start":859,"end":925,"region":"inside"},{"start":925,"end":946,"region":"TMhelix"},{"start":946,"end":961,"region":"outside"},{"start":961,"end":984,"region":"TMhelix"},{"start":984,"end":1256,"region":"inside"}],
"e_tm": [{"pos":0,"prob":0},{"pos":46,"prob":0},{"pos":48,"prob":0.15},{"pos":49,"prob":0.5},{"pos":51,"prob":0.85},{"pos":54,"prob":0.98},{"pos":61,"prob":1},{"pos":69,"prob":0.98},{"pos":72,"prob":0.85},{"pos":74,"prob":0.5},{"pos":76,"prob":0.1},{"pos":80,"prob":0},{"pos":103,"prob":0},{"pos":105,"prob":0.15},{"pos":106,"prob":0.5},{"pos":108,"prob":0.85},{"pos":111,"prob":0.98},{"pos":119,"prob":1},{"pos":128,"prob":0.98},{"pos":131,"prob":0.85},{"pos":133,"prob":0.5},{"pos":134,"prob":0.15},{"pos":136,"prob":0},{"pos":180,"prob":0},{"pos":182,"prob":0.15},{"pos":183,"prob":0.5},{"pos":185,"prob":0.84},{"pos":188,"prob":0.97},{"pos":194,"prob":0.99},{"pos":201,"prob":0.97},{"pos":204,"prob":0.84},{"pos":205,"prob":0.5},{"pos":207,"prob":0},{"pos":209,"prob":0.5},{"pos":210,"prob":0.85},{"pos":213,"prob":0.98},{"pos":220,"prob":1},{"pos":228,"prob":0.98},{"pos":231,"prob":0.85},{"pos":233,"prob":0.5},{"pos":234,"prob":0.15},{"pos":236,"prob":0},{"pos":255,"prob":0},{"pos":257,"prob":0.005},{"pos":268,"prob":0.005},{"pos":270,"prob":0},{"pos":285,"prob":0},{"pos":287,"prob":0.15},{"pos":288,"prob":0.5},{"pos":290,"prob":0.85},{"pos":293,"prob":0.98},{"pos":300,"prob":1},{"pos":308,"prob":0.98},{"pos":311,"prob":0.85},{"pos":313,"prob":0.5},{"pos":314,"prob":0.15},{"pos":316,"prob":0},{"pos":322,"prob":0},{"pos":324,"prob":0.15},{"pos":325,"prob":0.5},{"pos":327,"prob":0.84},{"pos":330,"prob":0.97},{"pos":337,"prob":0.985},{"pos":344,"prob":0.97},{"pos":347,"prob":0.84},{"pos":349,"prob":0.5},{"pos":351,"prob":0.15},{"pos":355,"prob":0},{"pos":689,"prob":0},{"pos":692,"prob":0.2},{"pos":693,"prob":0.5},{"pos":695,"prob":0.85},{"pos":698,"prob":0.98},{"pos":706,"prob":1},{"pos":714,"prob":0.98},{"pos":717,"prob":0.85},{"pos":719,"prob":0.5},{"pos":720,"prob":0.15},{"pos":722,"prob":0},{"pos":737,"prob":0},{"pos":739,"prob":0.15},{"pos":740,"prob":0.5},{"pos":742,"prob":0.85},{"pos":745,"prob":0.98},{"pos":752,"prob":1},{"pos":760,"prob":0.98},{"pos":763,"prob":0.85},{"pos":765,"prob":0.5},{"pos":766,"prob":0.15},{"pos":768,"prob":0},{"pos":812,"prob":0},{"pos":814,"prob":0.15},{"pos":815,"prob":0.5},{"pos":817,"prob":0.83},{"pos":820,"prob":0.96},{"pos":826,"prob":0.98},{"pos":833,"prob":0.96},{"pos":836,"prob":0.83},{"pos":837,"prob":0.5},{"pos":838,"prob":0},{"pos":839,"prob":0.5},{"pos":840,"prob":0.85},{"pos":843,"prob":0.98},{"pos":849,"prob":1},{"pos":855,"prob":0.98},{"pos":858,"prob":0.85},{"pos":860,"prob":0.5},{"pos":861,"prob":0.15},{"pos":863,"prob":0},{"pos":921,"prob":0},{"pos":923,"prob":0.15},{"pos":924,"prob":0.5},{"pos":926,"prob":0.85},{"pos":929,"prob":0.98},{"pos":935,"prob":1},{"pos":942,"prob":0.98},{"pos":945,"prob":0.85},{"pos":947,"prob":0.5},{"pos":948,"prob":0.15},{"pos":951,"prob":0.05},{"pos":955,"prob":0.03},{"pos":957,"prob":0},{"pos":959,"prob":0.15},{"pos":960,"prob":0.5},{"pos":962,"prob":0.82},{"pos":965,"prob":0.94},{"pos":972,"prob":0.96},{"pos":980,"prob":0.94},{"pos":983,"prob":0.82},{"pos":985,"prob":0.5},{"pos":986,"prob":0.15},{"pos":988,"prob":0},{"pos":1256,"prob":0}],
"e_in": [{"pos":0,"prob":0.997},{"pos":44,"prob":0.997},{"pos":47,"prob":0.85},{"pos":51,"prob":0.1},{"pos":55,"prob":0.003},{"pos":100,"prob":0.003},{"pos":105,"prob":0.01},{"pos":115,"prob":0.01},{"pos":120,"prob":0.003},{"pos":131,"prob":0.003},{"pos":134,"prob":0.5},{"pos":138,"prob":0.99},{"pos":182,"prob":0.99},{"pos":186,"prob":0.5},{"pos":190,"prob":0.003},{"pos":233,"prob":0.003},{"pos":236,"prob":0.5},{"pos":240,"prob":0.99},{"pos":286,"prob":0.99},{"pos":289,"prob":0.6},{"pos":293,"prob":0.003},{"pos":306,"prob":0.003},{"pos":310,"prob":0.012},{"pos":315,"prob":0.003},{"pos":352,"prob":0.003},{"pos":356,"prob":0.4},{"pos":361,"prob":0.9},{"pos":366,"prob":0.99},{"pos":690,"prob":0.99},{"pos":694,"prob":0.6},{"pos":699,"prob":0.003},{"pos":714,"prob":0.003},{"pos":716,"prob":0.012},{"pos":736,"prob":0.012},{"pos":739,"prob":0.003},{"pos":762,"prob":0.003},{"pos":765,"prob":0.6},{"pos":768,"prob":0.995},{"pos":810,"prob":0.995},{"pos":814,"prob":0.5},{"pos":818,"prob":0.003},{"pos":857,"prob":0.003},{"pos":860,"prob":0.6},{"pos":864,"prob":1.0},{"pos":920,"prob":1.0},{"pos":924,"prob":0.5},{"pos":928,"prob":0.003},{"pos":979,"prob":0.003},{"pos":983,"prob":0.6},{"pos":986,"prob":0.955},{"pos":1256,"prob":0.955}],
"e_out": [{"pos":0,"prob":0.01},{"pos":70,"prob":0.01},{"pos":73,"prob":0.4},{"pos":76,"prob":0.95},{"pos":79,"prob":0.99},{"pos":105,"prob":0.99},{"pos":108,"prob":0.4},{"pos":111,"prob":0.01},{"pos":207,"prob":0.01},{"pos":209,"prob":0.6},{"pos":211,"prob":1.0},{"pos":213,"prob":0.3},{"pos":216,"prob":0.015},{"pos":317,"prob":0.015},{"pos":319,"prob":0.6},{"pos":322,"prob":0.99},{"pos":325,"prob":0.4},{"pos":328,"prob":0.015},{"pos":718,"prob":0.015},{"pos":721,"prob":0.6},{"pos":724,"prob":0.99},{"pos":737,"prob":0.99},{"pos":740,"prob":0.3},{"pos":744,"prob":0.015},{"pos":836,"prob":0.015},{"pos":838,"prob":0.5},{"pos":840,"prob":0.01},{"pos":858,"prob":0.003},{"pos":944,"prob":0.003},{"pos":947,"prob":0.6},{"pos":950,"prob":1.0},{"pos":955,"prob":1.0},{"pos":958,"prob":0.3},{"pos":962,"prob":0.02},{"pos":968,"prob":0.02},{"pos":975,"prob":0.04},{"pos":985,"prob":0.046},{"pos":1256,"prob":0.046}]
},
"columns": 2,
"bounds": "flush",
"align": "each",
"spacing": {"row": 40, "column": 60},
"resolve": {"scale": {"x": "independent", "y": "independent", "color": "independent"}, "legend": {"color": "independent"}},
"concat": [
{"width": 541, "height": 251, "title": {"text": "a)", "dx": -5, "dy": 51},
 "resolve": {"axis": {"x": "independent", "y": "independent"}},
 "layer": [
  {"data": {"name": "a_tm"}, "mark": {"type": "area", "clip": true, "interpolate": "monotone"},
   "encoding": {"x": {"field": "pos", "type": "quantitative", "scale": {"domain": [0, 1256], "nice": false, "zero": false}, "axis": {"orient": "bottom", "values": [0,200,400,600,800,1000,1200], "format": "d", "title": null}},
    "y": {"field": "prob", "type": "quantitative", "scale": {"domain": [0, 1.2], "nice": false}, "axis": {"orient": "left", "values": [0,0.2,0.4,0.6,0.8,1,1.2], "format": "~g", "title": "probability", "titlePadding": 20}},
    "color": {"datum": "transmembrane", "type": "nominal", "scale": {"domain": ["transmembrane","inside","outside"], "range": ["#ff0000","#0000ff","#ff00ff"]}, "legend": {"title": null, "orient": "none", "legendX": 51, "legendY": 282, "columnPadding": 16}}}},
  {"data": {"name": "a_in"}, "mark": {"type": "line", "strokeWidth": 1, "clip": true},
   "encoding": {"x": {"field": "pos", "type": "quantitative", "axis": {"orient": "top", "values": [0,200,400,600,800,1000,1200], "labels": false, "title": null}},
    "y": {"field": "prob", "type": "quantitative", "axis": {"orient": "right", "values": [0,0.2,0.4,0.6,0.8,1,1.2], "labels": false, "title": null}},
    "color": {"datum": "inside", "type": "nominal"}}},
  {"data": {"name": "a_out"}, "mark": {"type": "line", "strokeWidth": 1, "clip": true},
   "encoding": {"x": {"field": "pos", "type": "quantitative", "axis": null}, "y": {"field": "prob", "type": "quantitative", "axis": null}, "color": {"datum": "outside", "type": "nominal"}}},
  {"data": {"name": "a_top"}, "transform": [{"filter": "datum.region == 'inside'"}], "mark": {"type": "rule", "strokeWidth": 3, "color": "#0000ff"},
   "encoding": {"x": {"field": "start", "type": "quantitative", "axis": null}, "x2": {"field": "end"}, "y": {"datum": 1.067, "axis": null}}},
  {"data": {"name": "a_top"}, "transform": [{"filter": "datum.region == 'outside'"}], "mark": {"type": "rule", "strokeWidth": 3, "color": "#ff00ff"},
   "encoding": {"x": {"field": "start", "type": "quantitative", "axis": null}, "x2": {"field": "end"}, "y": {"datum": 1.112, "axis": null}}},
  {"data": {"name": "a_top"}, "transform": [{"filter": "datum.region == 'TMhelix'"}], "mark": {"type": "bar", "color": "#ff0000"},
   "encoding": {"x": {"field": "start", "type": "quantitative", "axis": null}, "x2": {"field": "end"}, "y": {"datum": 1.058, "axis": null}, "y2": {"datum": 1.116}}}
 ]},
{"width": 554, "height": 258, "title": {"text": "b)", "dx": 2, "dy": 47},
 "resolve": {"axis": {"x": "independent", "y": "independent"}},
 "layer": [
  {"data": {"name": "b_tm"}, "mark": {"type": "area", "clip": true, "interpolate": "monotone"},
   "encoding": {"x": {"field": "pos", "type": "quantitative", "scale": {"domain": [0, 1256], "nice": false, "zero": false}, "axis": {"orient": "bottom", "values": [0,200,400,600,800,1000,1200], "format": "d", "title": null}},
    "y": {"field": "prob", "type": "quantitative", "scale": {"domain": [0, 1.2], "nice": false}, "axis": {"orient": "left", "values": [0,0.2,0.4,0.6,0.8,1,1.2], "format": "~g", "title": "probability", "titlePadding": 20}},
    "color": {"datum": "transmembrane", "type": "nominal", "scale": {"domain": ["transmembrane","inside","outside"], "range": ["#ff0000","#0000ff","#ff00ff"]}, "legend": {"title": null, "orient": "none", "legendX": 56, "legendY": 291, "columnPadding": 18}}}},
  {"data": {"name": "b_in"}, "mark": {"type": "line", "strokeWidth": 1, "clip": true},
   "encoding": {"x": {"field": "pos", "type": "quantitative", "axis": {"orient": "top", "values": [0,200,400,600,800,1000,1200], "labels": false, "title": null}},
    "y": {"field": "prob", "type": "quantitative", "axis": {"orient": "right", "values": [0,0.2,0.4,0.6,0.8,1,1.2], "labels": false, "title": null}},
    "color": {"datum": "inside", "type": "nominal"}}},
  {"data": {"name": "b_out"}, "mark": {"type": "line", "strokeWidth": 1, "clip": true},
   "encoding": {"x": {"field": "pos", "type": "quantitative", "axis": null}, "y": {"field": "prob", "type": "quantitative", "axis": null}, "color": {"datum": "outside", "type": "nominal"}}},
  {"data": {"name": "b_top"}, "transform": [{"filter": "datum.region == 'inside'"}], "mark": {"type": "rule", "strokeWidth": 3, "color": "#0000ff"},
   "encoding": {"x": {"field": "start", "type": "quantitative", "axis": null}, "x2": {"field": "end"}, "y": {"datum": 1.067, "axis": null}}},
  {"data": {"name": "b_top"}, "transform": [{"filter": "datum.region == 'outside'"}], "mark": {"type": "rule", "strokeWidth": 3, "color": "#ff00ff"},
   "encoding": {"x": {"field": "start", "type": "quantitative", "axis": null}, "x2": {"field": "end"}, "y": {"datum": 1.112, "axis": null}}},
  {"data": {"name": "b_top"}, "transform": [{"filter": "datum.region == 'TMhelix'"}], "mark": {"type": "bar", "color": "#ff0000"},
   "encoding": {"x": {"field": "start", "type": "quantitative", "axis": null}, "x2": {"field": "end"}, "y": {"datum": 1.058, "axis": null}, "y2": {"datum": 1.116}}}
 ]},
{"width": 10, "height": 107, "data": {"values": [{}]}, "mark": {"type": "text", "text": ""}, "encoding": {}, "view": {"stroke": null}},
{"width": 10, "height": 107, "data": {"values": [{}]}, "mark": {"type": "text", "text": ""}, "encoding": {}, "view": {"stroke": null}},
{"width": 552, "height": 239, "title": {"text": "c)", "dx": -1, "dy": 43},
 "resolve": {"axis": {"x": "independent", "y": "independent"}},
 "layer": [
  {"data": {"name": "c_tm"}, "mark": {"type": "area", "clip": true, "interpolate": "monotone"},
   "encoding": {"x": {"field": "pos", "type": "quantitative", "scale": {"domain": [0, 1256], "nice": false, "zero": false}, "axis": {"orient": "bottom", "values": [0,200,400,600,800,1000,1200], "format": "d", "title": null}},
    "y": {"field": "prob", "type": "quantitative", "scale": {"domain": [0, 1.2], "nice": false}, "axis": {"orient": "left", "values": [0,0.2,0.4,0.6,0.8,1,1.2], "format": "~g", "title": "probability", "titlePadding": 24}},
    "color": {"datum": "transmembrane", "type": "nominal", "scale": {"domain": ["transmembrane","inside","outside"], "range": ["#ff0000","#0000ff","#ff00ff"]}, "legend": {"title": null, "orient": "none", "legendX": 53, "legendY": 268, "columnPadding": 19}}}},
  {"data": {"name": "c_in"}, "mark": {"type": "line", "strokeWidth": 1, "clip": true},
   "encoding": {"x": {"field": "pos", "type": "quantitative", "axis": {"orient": "top", "values": [0,200,400,600,800,1000,1200], "labels": false, "title": null}},
    "y": {"field": "prob", "type": "quantitative", "axis": {"orient": "right", "values": [0,0.2,0.4,0.6,0.8,1,1.2], "labels": false, "title": null}},
    "color": {"datum": "inside", "type": "nominal"}}},
  {"data": {"name": "c_out"}, "mark": {"type": "line", "strokeWidth": 1, "clip": true},
   "encoding": {"x": {"field": "pos", "type": "quantitative", "axis": null}, "y": {"field": "prob", "type": "quantitative", "axis": null}, "color": {"datum": "outside", "type": "nominal"}}},
  {"data": {"name": "c_top"}, "transform": [{"filter": "datum.region == 'inside'"}], "mark": {"type": "rule", "strokeWidth": 3, "color": "#0000ff"},
   "encoding": {"x": {"field": "start", "type": "quantitative", "axis": null}, "x2": {"field": "end"}, "y": {"datum": 1.067, "axis": null}}},
  {"data": {"name": "c_top"}, "transform": [{"filter": "datum.region == 'outside'"}], "mark": {"type": "rule", "strokeWidth": 3, "color": "#ff00ff"},
   "encoding": {"x": {"field": "start", "type": "quantitative", "axis": null}, "x2": {"field": "end"}, "y": {"datum": 1.112, "axis": null}}},
  {"data": {"name": "c_top"}, "transform": [{"filter": "datum.region == 'TMhelix'"}], "mark": {"type": "bar", "color": "#ff0000"},
   "encoding": {"x": {"field": "start", "type": "quantitative", "axis": null}, "x2": {"field": "end"}, "y": {"datum": 1.058, "axis": null}, "y2": {"datum": 1.116}}}
 ]},
{"width": 563, "height": 247, "title": {"text": "d)", "dx": 0, "dy": 44},
 "resolve": {"axis": {"x": "independent", "y": "independent"}},
 "layer": [
  {"data": {"name": "d_tm"}, "mark": {"type": "area", "clip": true, "interpolate": "monotone"},
   "encoding": {"x": {"field": "pos", "type": "quantitative", "scale": {"domain": [0, 1256], "nice": false, "zero": false}, "axis": {"orient": "bottom", "values": [0,200,400,600,800,1000,1200], "format": "d", "title": null}},
    "y": {"field": "prob", "type": "quantitative", "scale": {"domain": [0, 1.2], "nice": false}, "axis": {"orient": "left", "values": [0,0.2,0.4,0.6,0.8,1,1.2], "format": "~g", "title": "probability", "titlePadding": 20}},
    "color": {"datum": "transmembrane", "type": "nominal", "scale": {"domain": ["transmembrane","inside","outside"], "range": ["#ff0000","#0000ff","#ff00ff"]}, "legend": {"title": null, "orient": "none", "legendX": 56, "legendY": 276, "columnPadding": 21}}}},
  {"data": {"name": "d_in"}, "mark": {"type": "line", "strokeWidth": 1, "clip": true},
   "encoding": {"x": {"field": "pos", "type": "quantitative", "axis": {"orient": "top", "values": [0,200,400,600,800,1000,1200], "labels": false, "title": null}},
    "y": {"field": "prob", "type": "quantitative", "axis": {"orient": "right", "values": [0,0.2,0.4,0.6,0.8,1,1.2], "labels": false, "title": null}},
    "color": {"datum": "inside", "type": "nominal"}}},
  {"data": {"name": "d_out"}, "mark": {"type": "line", "strokeWidth": 1, "clip": true},
   "encoding": {"x": {"field": "pos", "type": "quantitative", "axis": null}, "y": {"field": "prob", "type": "quantitative", "axis": null}, "color": {"datum": "outside", "type": "nominal"}}},
  {"data": {"name": "d_top"}, "transform": [{"filter": "datum.region == 'inside'"}], "mark": {"type": "rule", "strokeWidth": 3, "color": "#0000ff"},
   "encoding": {"x": {"field": "start", "type": "quantitative", "axis": null}, "x2": {"field": "end"}, "y": {"datum": 1.067, "axis": null}}},
  {"data": {"name": "d_top"}, "transform": [{"filter": "datum.region == 'outside'"}], "mark": {"type": "rule", "strokeWidth": 3, "color": "#ff00ff"},
   "encoding": {"x": {"field": "start", "type": "quantitative", "axis": null}, "x2": {"field": "end"}, "y": {"datum": 1.112, "axis": null}}},
  {"data": {"name": "d_top"}, "transform": [{"filter": "datum.region == 'TMhelix'"}], "mark": {"type": "bar", "color": "#ff0000"},
   "encoding": {"x": {"field": "start", "type": "quantitative", "axis": null}, "x2": {"field": "end"}, "y": {"datum": 1.058, "axis": null}, "y2": {"datum": 1.116}}}
 ]},
{"width": 10, "height": 50, "data": {"values": [{}]}, "mark": {"type": "text", "text": ""}, "encoding": {}, "view": {"stroke": null}},
{"width": 10, "height": 50, "data": {"values": [{}]}, "mark": {"type": "text", "text": ""}, "encoding": {}, "view": {"stroke": null}},
{"width": 566, "height": 262, "title": {"text": "e)", "dx": -6, "dy": 46},
 "resolve": {"axis": {"x": "independent", "y": "independent"}},
 "layer": [
  {"data": {"name": "e_tm"}, "mark": {"type": "area", "clip": true, "interpolate": "monotone"},
   "encoding": {"x": {"field": "pos", "type": "quantitative", "scale": {"domain": [0, 1256], "nice": false, "zero": false}, "axis": {"orient": "bottom", "values": [0,200,400,600,800,1000,1200], "format": "d", "title": null}},
    "y": {"field": "prob", "type": "quantitative", "scale": {"domain": [0, 1.2], "nice": false}, "axis": {"orient": "left", "values": [0,0.2,0.4,0.6,0.8,1,1.2], "format": "~g", "title": "probability", "titlePadding": 24}},
    "color": {"datum": "transmembrane", "type": "nominal", "scale": {"domain": ["transmembrane","inside","outside"], "range": ["#ff0000","#0000ff","#ff00ff"]}, "legend": {"title": null, "orient": "none", "legendX": 54, "legendY": 294, "columnPadding": 23}}}},
  {"data": {"name": "e_in"}, "mark": {"type": "line", "strokeWidth": 1, "clip": true},
   "encoding": {"x": {"field": "pos", "type": "quantitative", "axis": {"orient": "top", "values": [0,200,400,600,800,1000,1200], "labels": false, "title": null}},
    "y": {"field": "prob", "type": "quantitative", "axis": {"orient": "right", "values": [0,0.2,0.4,0.6,0.8,1,1.2], "labels": false, "title": null}},
    "color": {"datum": "inside", "type": "nominal"}}},
  {"data": {"name": "e_out"}, "mark": {"type": "line", "strokeWidth": 1, "clip": true},
   "encoding": {"x": {"field": "pos", "type": "quantitative", "axis": null}, "y": {"field": "prob", "type": "quantitative", "axis": null}, "color": {"datum": "outside", "type": "nominal"}}},
  {"data": {"name": "e_top"}, "transform": [{"filter": "datum.region == 'inside'"}], "mark": {"type": "rule", "strokeWidth": 3, "color": "#0000ff"},
   "encoding": {"x": {"field": "start", "type": "quantitative", "axis": null}, "x2": {"field": "end"}, "y": {"datum": 1.067, "axis": null}}},
  {"data": {"name": "e_top"}, "transform": [{"filter": "datum.region == 'outside'"}], "mark": {"type": "rule", "strokeWidth": 3, "color": "#ff00ff"},
   "encoding": {"x": {"field": "start", "type": "quantitative", "axis": null}, "x2": {"field": "end"}, "y": {"datum": 1.112, "axis": null}}},
  {"data": {"name": "e_top"}, "transform": [{"filter": "datum.region == 'TMhelix'"}], "mark": {"type": "bar", "color": "#ff0000"},
   "encoding": {"x": {"field": "start", "type": "quantitative", "axis": null}, "x2": {"field": "end"}, "y": {"datum": 1.058, "axis": null}, "y2": {"datum": 1.116}}}
 ]},
{"width": 560, "height": 1, "data": {"values": [{}]}, "mark": {"type": "text", "text": ""}, "encoding": {}, "view": {"stroke": null},
 "title": {"text": ["Abbildung\u00a0\u00a0\u00a0 3.3:\u00a0\u00a0\u00a0 TMHMM-Modelle\u00a0\u00a0\u00a0 der\u00a0\u00a0\u00a0 C. au", "ABCB-Transporter\u00a0\u00a0\u00a0 im\u00a0\u00a0\u00a0 Vergleich\u00a0\u00a0 zu\u00a0\u00a0 C. asclepia"],
  "subtitle": ["linke\u00a0 Seite\u00a0 von\u00a0 oben\u00a0 nach\u00a0 unten\u00a0 CauABCB1,\u00a0 AB", "ABCB3 rechte Seite von oben nach unten CascAB", "ABCB2.\u00a0\u00a0\u00a0\u00a0 Auf\u00a0\u00a0\u00a0\u00a0\u00a0 der\u00a0\u00a0\u00a0\u00a0\u00a0 X-Achse\u00a0\u00a0\u00a0\u00a0\u00a0 befindet\u00a0\u00a0\u00a0\u00a0\u00a0 sie", "Aminosäuresequenz\u00a0\u00a0\u00a0\u00a0\u00a0 und\u00a0\u00a0\u00a0\u00a0 auf\u00a0\u00a0\u00a0\u00a0\u00a0 der\u00a0\u00a0\u00a0\u00a0 Y-Achse", "posteriorie\u00a0\u00a0\u00a0\u00a0 Wahrscheinlickeit\u00a0\u00a0\u00a0\u00a0 (N- Best).\u00a0\u00a0\u00a0\u00a0 Die", "Balken\u00a0 zeigen\u00a0 die\u00a0 Aminosäuren,\u00a0 die\u00a0 die\u00a0 Helices", "Transmembrandomänen\u00a0\u00a0\u00a0\u00a0\u00a0\u00a0\u00a0\u00a0\u00a0\u00a0\u00a0 bilden,\u00a0\u00a0\u00a0\u00a0\u00a0\u00a0\u00a0\u00a0\u00a0 pink", "extrazellulären\u00a0\u00a0\u00a0\u00a0\u00a0\u00a0\u00a0 Aminosäuren\u00a0\u00a0\u00a0\u00a0\u00a0\u00a0\u00a0 und\u00a0\u00a0\u00a0\u00a0\u00a0\u00a0\u00a0 blau"],
  "orient": "bottom", "anchor": "start", "frame": "group", "dx": -21, "offset": -28,
  "font": "Lato", "fontSize": 26, "fontWeight": "bold", "color": "#000000", "lineHeight": 36,
  "subtitleFont": "Lato", "subtitleFontSize": 26, "subtitleFontWeight": "normal", "subtitleColor": "#000000", "subtitleLineHeight": 36, "subtitlePadding": 10}}
],
"config": {
 "view": {"stroke": "#303030", "strokeWidth": 1},
 "axis": {"grid": false, "domain": false, "labelFont": "DejaVu Sans", "labelFontSize": 11, "labelColor": "#303030", "titleFont": "DejaVu Sans", "titleFontSize": 12.5, "titleFontWeight": "normal", "titleColor": "#303030", "tickColor": "#303030", "tickSize": -5, "labelPadding": 13, "labelFlush": false, "labelOverlap": false},
 "legend": {"direction": "horizontal", "columns": 3, "gridAlign": "all", "symbolType": "stroke", "symbolSize": 1296, "symbolStrokeWidth": 1.3, "labelAlign": "right", "labelOffset": -45, "symbolOffset": 101, "labelFont": "DejaVu Sans", "labelFontSize": 11.5, "labelColor": "#303030", "padding": 0, "labelLimit": 300},
 "title": {"font": "Lato", "fontSize": 27, "fontWeight": "normal", "color": "#000000", "anchor": "start", "frame": "bounds", "offset": 0}
}
}
